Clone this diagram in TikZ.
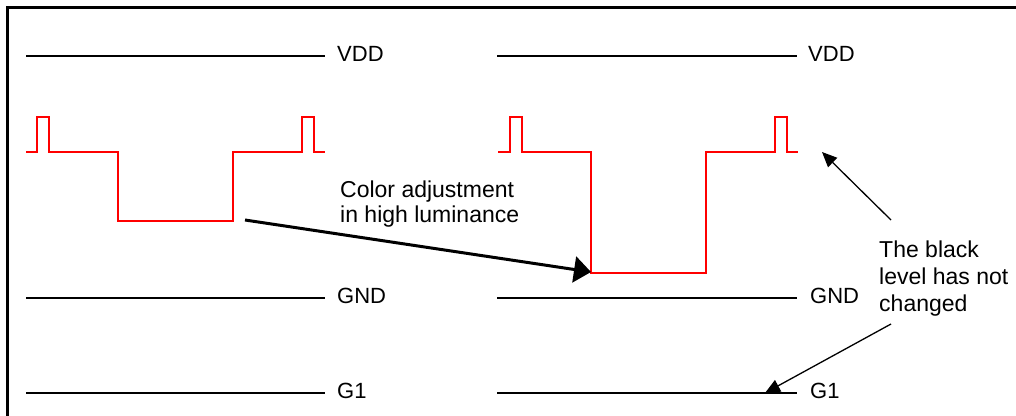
\documentclass[tikz,border=0pt]{standalone}
\usepackage{fontspec}
\setmainfont{Liberation Sans}
\usetikzlibrary{arrows.meta}
\begin{document}
\begin{tikzpicture}[x=1pt,y=-1pt,
  rail/.style={line width=1.3pt,black},
  wave/.style={line width=1.5pt,red,line join=miter},
  lbl/.style={anchor=base west,inner sep=0pt,font=\fontsize{22}{25}\selectfont},
  note/.style={anchor=north west,inner sep=0pt,align=left,font=\fontsize{23}{25}\selectfont},
  note2/.style={anchor=north west,inner sep=0pt,align=left,font=\fontsize{23}{27}\selectfont},
  bigarrow/.style={line width=3pt,-{Triangle[length=17pt,width=26pt]}},
  thinarrow/.style={line width=1.3pt,-{Triangle[length=15pt,width=13pt]}}]
\useasboundingbox (0,0) rectangle (1016,415);
% frame
\draw[line width=2.2pt] (7.5,430) -- (7.5,7.5) -- (1030,7.5);
% rails left
\draw[rail] (26,56) -- (325,56);
\draw[rail] (26,298) -- (325,298);
\draw[rail] (26,393) -- (325,393);
\node[lbl] (vddL) at (337,61) {VDD};
\node[lbl] (gndL) at (337,303) {GND};
\node[lbl] (g1L) at (337,398) {G1};
% rails right
\draw[rail] (497,56) -- (797,56);
\draw[rail] (497,298) -- (797,298);
\draw[rail] (497,393) -- (797,393);
\node[lbl] (vddR) at (808,61) {VDD};
\node[lbl] (gndR) at (810,303) {GND};
\node[lbl] (g1R) at (810,398) {G1};
% waveforms
\draw[wave] (26,152) -- (37,152) -- (37,117) -- (49,117) -- (49,152) -- (118,152) -- (118,221)
  -- (233,221) -- (233,152) -- (302,152) -- (302,117) -- (314,117) -- (314,152) -- (325,152);
\draw[wave] (498,152) -- (510,152) -- (510,117) -- (522,117) -- (522,152) -- (591,152) -- (591,273)
  -- (706,273) -- (706,152) -- (775,152) -- (775,117) -- (787,117) -- (787,152) -- (798,152);
% notes
\node[note] (color) at (340,181) {Color adjustment\\in high luminance};
\node[note2] (black) at (879,241) {The black\\level has not\\changed};
% arrows
\coordinate (a1s) at (245,220);
\coordinate (a1e) at (591,272);
\draw[bigarrow] (a1s) -- (a1e);
\coordinate (a2s) at (891,220);
\coordinate (a2e) at (822,152);
\draw[thinarrow] (a2s) -- (a2e);
\coordinate (a3s) at (891,324);
\coordinate (a3e) at (765,393);
\draw[thinarrow] (a3s) -- (a3e);
\end{tikzpicture}
\end{document}
